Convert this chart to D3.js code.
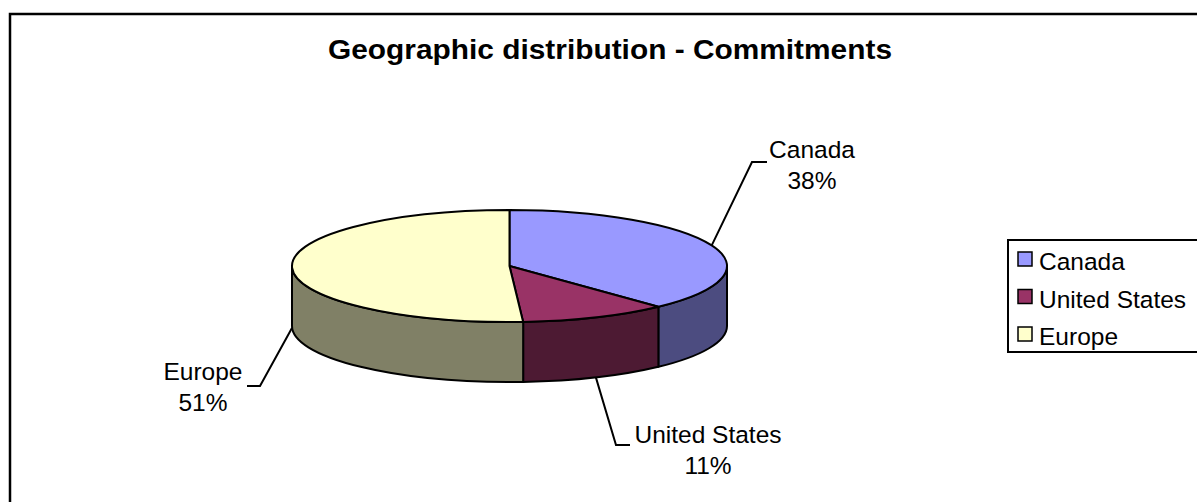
<!DOCTYPE html>
<html>
<head>
<meta charset="utf-8">
<script src="https://cdn.jsdelivr.net/npm/d3@7"></script>
<style>
  body { margin: 0; background: #fff; }
  svg text { font-family: "Liberation Sans", Arial, sans-serif; fill: #000; }
</style>
</head>
<body>
<div id="chart"></div>
<script>
// data
const categories = ["Canada", "United States", "Europe"];
const values = [38, 11, 51];
const title = "Geographic distribution - Commitments";

// colours (top face, side face)
const topColors = ["#9999FF", "#993366", "#FFFFCC"];
const sideColors = ["#4C4C80", "#4D1A33", "#808066"];

const width = 1197, height = 502;
const cx = 509.5, cy = 266, rx = 217.5, ry = 56, depth = 60;

// label layout: text centre/baseline and elbow of leader line
const labelLayout = [
  { tx: 812, ty: 158, ex: 752, ey: 162, hx: 767 },
  { tx: 708, ty: 443, ex: 616, ey: 445, hx: 630 },
  { tx: 203, ty: 380, ex: 260, ey: 386, hx: 247 }
];

const svg = d3.select("#chart").append("svg")
  .attr("width", width)
  .attr("height", height);

// chart frame (runs off right and bottom)
svg.append("rect")
  .attr("x", 10).attr("y", 14)
  .attr("width", 1200).attr("height", 500)
  .attr("fill", "#fff")
  .attr("stroke", "#000")
  .attr("stroke-width", 2.5);

svg.append("text")
  .attr("x", 610).attr("y", 58.5)
  .attr("text-anchor", "middle")
  .attr("textLength", 564)
  .attr("lengthAdjust", "spacingAndGlyphs")
  .style("font-size", "27px")
  .style("font-weight", "bold")
  .text(title);

const pie = d3.pie().sort(null).startAngle(0).endAngle(2 * Math.PI);
const slices = pie(values);

//point on ellipse for an angle measured clockwise from 12 o'clock
function pt(a, dy) {
  return [cx + rx * Math.sin(a), cy - ry * Math.cos(a) + (dy || 0)];
}

function topPath(d) {
  const p0 = pt(d.startAngle), p1 = pt(d.endAngle);
  const large = d.endAngle - d.startAngle > Math.PI ? 1 : 0;
  return `M${cx},${cy}L${p0}A${rx},${ry} 0 ${large} 1 ${p1}Z`;
}

function sidePath(d) {
  const b0 = Math.max(d.startAngle, Math.PI / 2);
  const b1 = Math.min(d.endAngle, 3 * Math.PI / 2);
  if (b1 <= b0) return null;
  const p0 = pt(b0), p1 = pt(b1), q0 = pt(b0, depth), q1 = pt(b1, depth);
  return `M${p0}A${rx},${ry} 0 0 1 ${p1}L${q1}A${rx},${ry} 0 0 0 ${q0}Z`;
}

const g = svg.append("g");

g.selectAll("path.side")
  .data(slices.filter(d => sidePath(d)))
  .enter()
  .append("path")
  .attr("class", "side")
  .attr("d", sidePath)
  .attr("fill", d => sideColors[d.index])
  .attr("stroke", "#000")
  .attr("stroke-width", 2)
  .attr("stroke-linejoin", "round");

g.selectAll("path.top")
  .data(slices)
  .enter()
  .append("path")
  .attr("class", "top")
  .attr("d", topPath)
  .attr("fill", d => topColors[d.index])
  .attr("stroke", "#000")
  .attr("stroke-width", 2)
  .attr("stroke-linejoin", "round");

// data labels with leader lines
slices.forEach((d, i) => {
  const mid = (d.startAngle + d.endAngle) / 2;
  const front = Math.cos(mid) < 0;
  const anchor = pt(mid, front ? depth : 0);
  const L = labelLayout[i];
  svg.append("path")
    .attr("d", `M${anchor}L${L.ex},${L.ey}L${L.hx},${L.ey}`)
    .attr("fill", "none")
    .attr("stroke", "#000")
    .attr("stroke-width", 2);
  const t = svg.append("text")
    .attr("text-anchor", "middle")
    .style("font-size", "24.5px");
  t.append("tspan").attr("x", L.tx).attr("y", L.ty).text(categories[i]);
  t.append("tspan").attr("x", L.tx).attr("y", L.ty + 31).text(d3.format(".0%")(d.value / d3.sum(values)));
});

// legend
const legend = svg.append("g");
legend.append("rect")
  .attr("x", 1008).attr("y", 240)
  .attr("width", 220).attr("height", 112)
  .attr("fill", "#fff")
  .attr("stroke", "#000")
  .attr("stroke-width", 2);

const rows = legend.selectAll("g.item")
  .data(categories)
  .enter()
  .append("g")
  .attr("class", "item")
  .attr("transform", (d, i) => `translate(1018,${252 + i * 37.5})`);

rows.append("rect")
  .attr("width", 14).attr("height", 14)
  .attr("fill", (d, i) => topColors[i])
  .attr("stroke", "#000")
  .attr("stroke-width", 1.5);

rows.append("text")
  .attr("x", 21).attr("y", 18)
  .style("font-size", "24.5px")
  .text(d => d);
</script>
</body>
</html>
